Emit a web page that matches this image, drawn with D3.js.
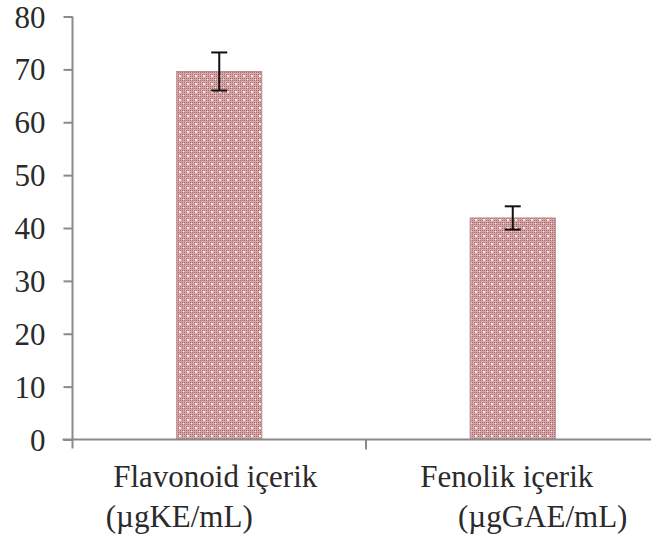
<!DOCTYPE html>
<html><head><meta charset="utf-8">
<script src="https://cdn.jsdelivr.net/npm/d3@7"></script>
<style>html,body{margin:0;padding:0;background:#fff;}svg{display:block;}
text{font-family:"Liberation Serif","Times New Roman",serif;}</style>
</head><body>
<svg id="chart" width="651" height="546"></svg>
<script>
const categories = ["Flavonoid içerik", "Fenolik içerik"];
const units = ["(µgKE/mL)", "(µgGAE/mL)"];
const values = [69.6, 41.9];
const errors = [3.6, 2.2];
const yTicks = [0, 10, 20, 30, 40, 50, 60, 70, 80];

const svg = d3.select("#chart");
const W = 651, H = 546;
const x0 = 72.5, x1 = 659.5, yTop = 16.5, yBot = 439.5;
const FONT = "'Liberation Serif', 'Times New Roman', serif";

const x = d3.scaleBand().domain(categories).range([x0, x1]).paddingInner(0).paddingOuter(0);
const y = d3.scaleLinear().domain([0, 80]).range([yBot, yTop]);

// pattern
const defs = svg.append("defs");
const pat = defs.append("pattern").attr("id", "dots").attr("patternUnits", "userSpaceOnUse")
  .attr("width", 8).attr("height", 8);
pat.append("rect").attr("width", 8).attr("height", 8).attr("fill", "#d6a8a9");
for (let i = 0; i < 4; i++) for (let j = 0; j < 4; j++) {
  pat.append("rect").attr("x", i * 2).attr("y", j * 2).attr("width", 1).attr("height", 1).attr("fill", "#a5686b");
}
pat.append("rect").attr("x", 3).attr("y", 3).attr("width", 2).attr("height", 2).attr("fill", "#f8e8e8");
pat.append("rect").attr("x", 7).attr("y", 7).attr("width", 1).attr("height", 1).attr("fill", "#f0dcdc");

const barW = x.bandwidth() * 0.29;
const cx = d => x(d) + x.bandwidth() / 2;

svg.append("g").selectAll("rect").data(categories).join("rect")
  .attr("x", d => cx(d) - barW / 2)
  .attr("y", (d, i) => y(values[i]))
  .attr("width", barW)
  .attr("height", (d, i) => y(0) - y(values[i]))
  .attr("fill", "url(#dots)")
  .attr("stroke", "#bf8a8c").attr("stroke-width", 1);

// error bars
const eb = svg.append("g").attr("stroke", "#111").attr("stroke-width", 2);
categories.forEach((c, i) => {
  const X = cx(c), hi = y(values[i] + errors[i]), lo = y(values[i] - errors[i]);
  eb.append("line").attr("x1", X).attr("x2", X).attr("y1", hi).attr("y2", lo);
  eb.append("line").attr("x1", X - 8).attr("x2", X + 8).attr("y1", hi).attr("y2", hi);
  eb.append("line").attr("x1", X - 8).attr("x2", X + 8).attr("y1", lo).attr("y2", lo);
});

// y axis
const yAxis = d3.axisLeft(y).tickValues(yTicks).tickSize(9).tickPadding(18);
const gy = svg.append("g").attr("transform", `translate(${x0},0)`).call(yAxis);
gy.attr("font-family", FONT).attr("font-size", 31);
gy.select(".domain").remove();
gy.selectAll(".tick line").attr("stroke", "#8a8a8a").attr("stroke-width", 2);
gy.selectAll(".tick text").attr("font-family", FONT)
  .attr("font-size", 31).attr("fill", "#2a2a2a").attr("dy", "0.34em");
svg.append("line").attr("x1", x0).attr("x2", x0).attr("y1", yTop).attr("y2", yBot + 9)
  .attr("stroke", "#8a8a8a").attr("stroke-width", 2);

// x axis
svg.append("line").attr("x1", x0 - 10).attr("x2", W).attr("y1", yBot).attr("y2", yBot)
  .attr("stroke", "#8a8a8a").attr("stroke-width", 2);
const bounds = categories.slice(1).map(c => x(c));
svg.append("g").selectAll("line").data(bounds).join("line")
  .attr("x1", d => d).attr("x2", d => d).attr("y1", yBot).attr("y2", yBot + 10)
  .attr("stroke", "#8a8a8a").attr("stroke-width", 2);

// category labels
const lineOffsets = [[-4, -40], [-6, 30]];
const lbl = svg.append("g").attr("font-family", FONT)
  .attr("font-size", 31).attr("fill", "#2a2a2a").attr("text-anchor", "middle");
categories.forEach((c, i) => {
  lbl.append("text").attr("x", cx(c) + lineOffsets[i][0]).attr("y", 487).text(c);
  lbl.append("text").attr("x", cx(c) + lineOffsets[i][1]).attr("y", 527).text(units[i]);
});
</script>
</body></html>
